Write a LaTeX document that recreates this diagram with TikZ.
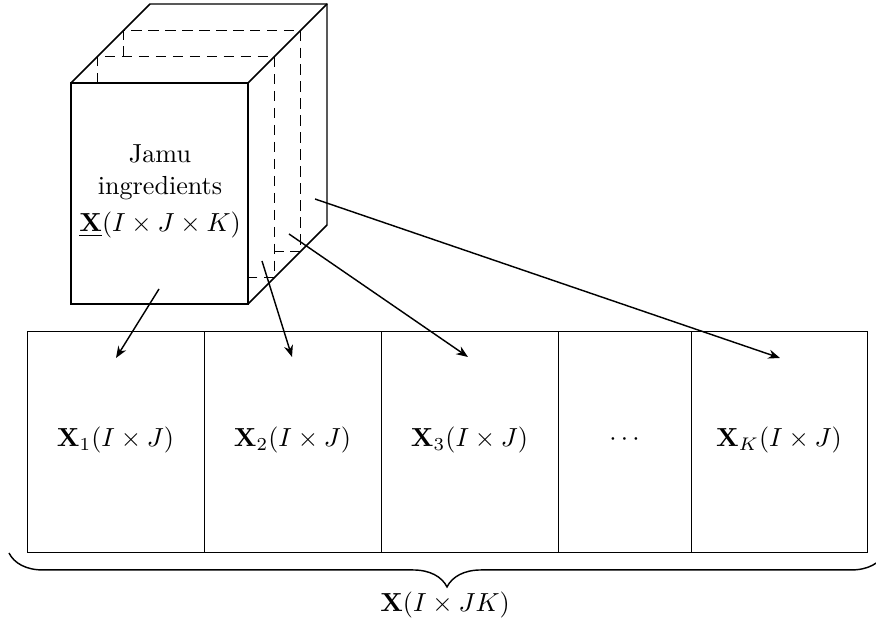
\documentclass[tikz,border=0pt]{standalone}
\usetikzlibrary{decorations.pathreplacing,arrows.meta}
\begin{document}
\begin{tikzpicture}[x=0.383pt,y=-0.383pt,line width=0.55pt,
  hid/.style={dashed,dash pattern=on 4pt off 2.5pt},
  arr/.style={-{Stealth[length=4.5pt,width=3.5pt]}},
  cell/.style={draw,minimum width=177*0.383pt,minimum height=221*0.383pt,inner sep=0pt,anchor=north west},
  lab/.style={inner sep=0pt}]
\useasboundingbox (0,0) rectangle (876,623);
% cube
\draw (71,83) rectangle (248,304);
\draw (71,83) -- (150,4) -- (327,4) -- (327,225) -- (248,304);
\draw (248,83) -- (327,4);
% hidden slices
\draw[hid] (97.3,83) -- (97.3,56.7) -- (274.3,56.7) -- (274.3,277.7) -- (248,277.7);
\draw[hid] (123.7,56.7) -- (123.7,30.3) -- (300.7,30.3) -- (300.7,251.3) -- (274.3,251.3);
\node[lab,anchor=base] (t1) at (160,163) {Jamu};
\node[lab,anchor=base] (t2) at (160,195) {ingredients};
\node[lab,anchor=base] (t3) at (160,232) {$\underline{\mathbf{X}}(I\times J\times K)$};
% row of slabs
\node[cell] (c1) at (27,331) {};
\node[cell] (c2) at (204,331) {};
\node[cell] (c3) at (381,331) {};
\node[cell,minimum width=133*0.383pt] (c4) at (558,331) {};
\node[cell,minimum width=176*0.383pt] (c5) at (691,331) {};
\node[lab] (l1) at (115.5,440) {$\mathbf{X}_1(I\times J)$};
\node[lab] (l2) at (292.5,440) {$\mathbf{X}_2(I\times J)$};
\node[lab] (l3) at (469.5,440) {$\mathbf{X}_3(I\times J)$};
\node[lab] (l4) at (624.5,440) {$\cdots$};
\node[lab] (l5) at (779,440) {$\mathbf{X}_K(I\times J)$};
% arrows
\coordinate (s1) at (159,289); \coordinate (e1) at (116,358);
\coordinate (s2) at (262,261); \coordinate (e2) at (292,357);
\coordinate (s3) at (289,234); \coordinate (e3) at (468,357);
\coordinate (s4) at (315,199); \coordinate (e4) at (780,358);
\draw[arr] (s1) -- (e1);
\draw[arr] (s2) -- (e2);
\draw[arr] (s3) -- (e3);
\draw[arr] (s4) -- (e4);
% brace
\coordinate (b1) at (9,553);
\coordinate (b2) at (885,553);
\draw[decorate,decoration={brace,mirror,amplitude=13pt}] (b1) -- (b2);
\node[lab,anchor=base] (bl) at (445,612) {$\mathbf{X}(I\times JK)$};
\end{tikzpicture}
\end{document}
